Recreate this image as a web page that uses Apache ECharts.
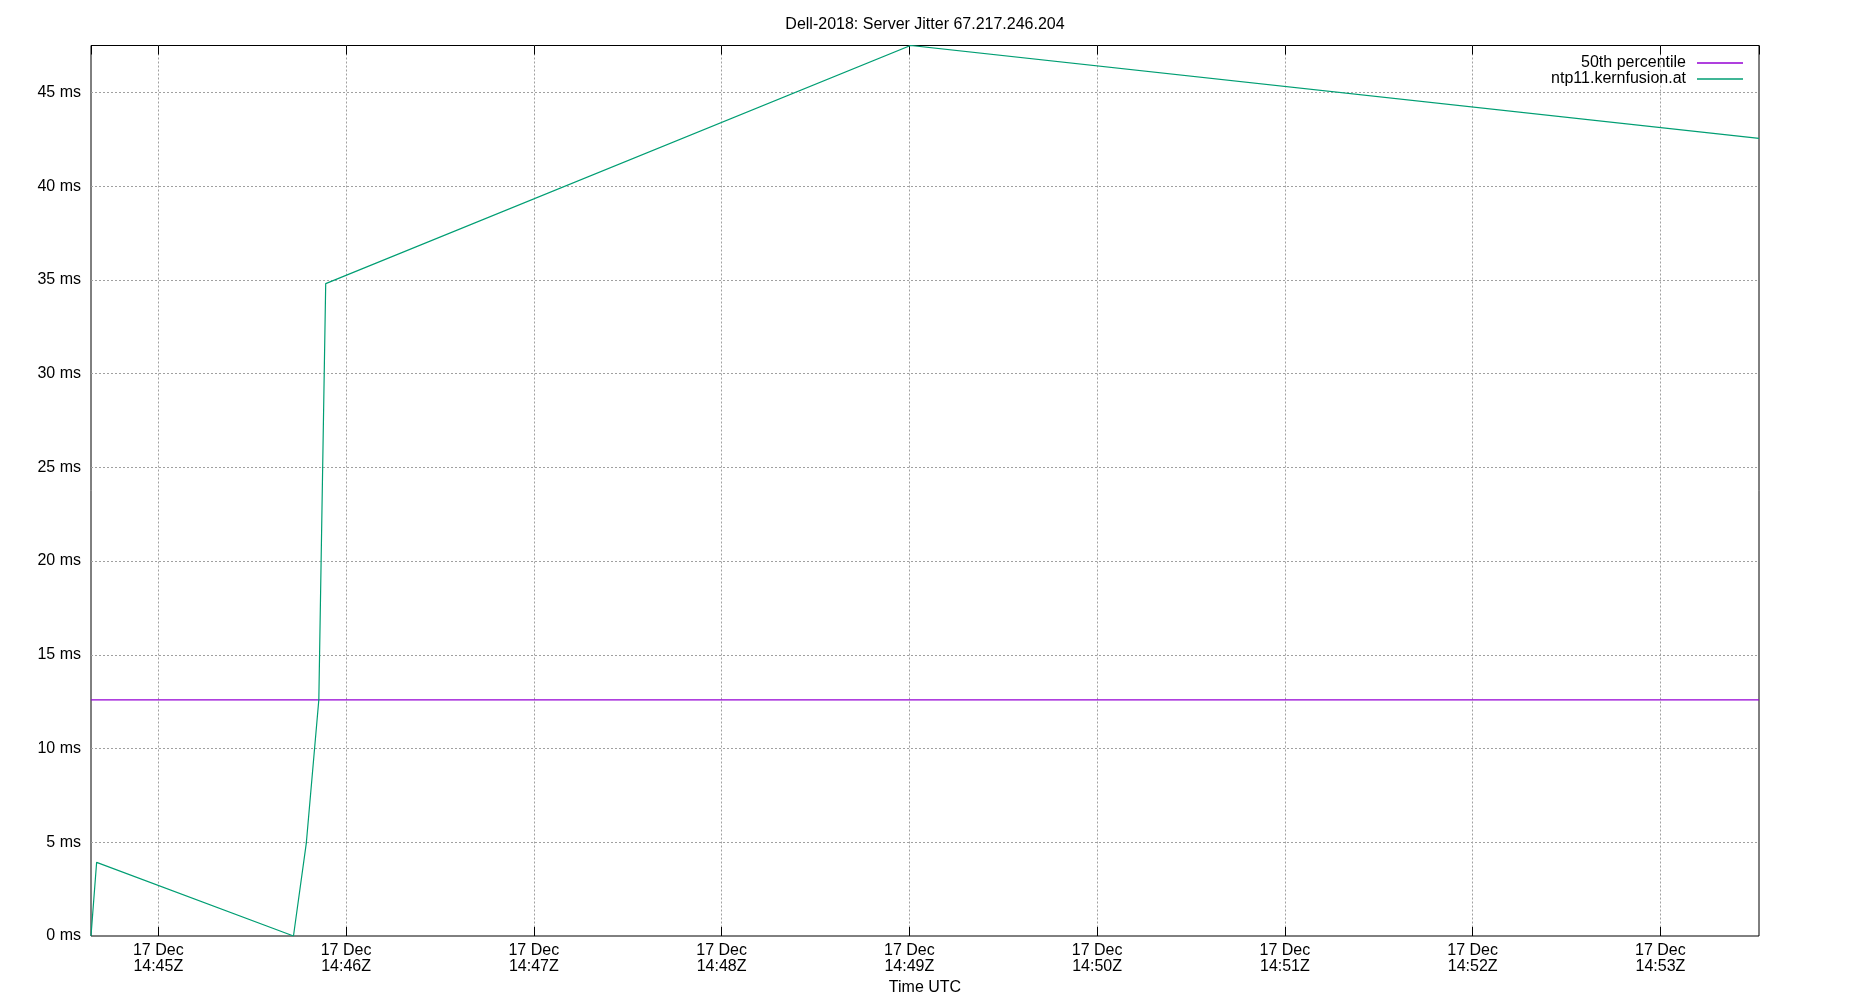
<!DOCTYPE html>
<html>
<head>
    <meta charset="utf-8" />
    <title>Server Jitter</title>
    <style>
        html, body { margin: 0; padding: 0; background: #fff; }
    </style>
</head>
<body>

    <div id="divChart" style="width:1850px;height:1000px;"></div>

    <script src="https://cdn.jsdelivr.net/npm/echarts@6/dist/echarts.min.js"></script>
    <script>
        // data (UTC)
        var jitterTimes = ['2018-12-17T14:44:38.500Z', '2018-12-17T14:44:40.300Z', '2018-12-17T14:45:43.200Z',
            '2018-12-17T14:45:47.300Z', '2018-12-17T14:45:51.300Z', '2018-12-17T14:45:53.500Z',
            '2018-12-17T14:49:00.400Z', '2018-12-17T14:53:31.500Z'];
        var jitterValues = [0, 3.93, 0, 4.95, 12.6, 34.8, 47.5, 42.55];
        var medianValue = 12.59;
        var yTicks = [0, 5, 10, 15, 20, 25, 30, 35, 40, 45];
        var yMax = 47.5;

        var font = 'Liberation Sans, Arial, sans-serif';
        var months = ['Jan', 'Feb', 'Mar', 'Apr', 'May', 'Jun', 'Jul', 'Aug', 'Sep', 'Oct', 'Nov', 'Dec'];

        function pad(n) { return (n < 10 ? '0' : '') + n; }

        var tStart = Date.parse(jitterTimes[0]);
        var tEnd = Date.parse(jitterTimes[jitterTimes.length - 1]);

        var jitterData = jitterTimes.map(function (t, i) { return [Date.parse(t), jitterValues[i]]; });
        var medianData = [[tStart, medianValue], [tEnd, medianValue]];

        var gridLine = { show: true, showMinLine: false, showMaxLine: false, lineStyle: { color: '#a0a0a0', width: 1, type: [2, 2] } };
        var tickStyle = { inside: true, length: 9, lineStyle: { color: '#000' } };

        var myChart = echarts.init(document.getElementById('divChart'));

        var option = {
            useUTC: true,
            animation: false,
            backgroundColor: '#fff',
            title: {
                text: 'Dell-2018: Server Jitter 67.217.246.204',
                left: 'center',
                top: 12,
                textStyle: { fontFamily: font, fontSize: 16, fontWeight: 'normal', color: '#000' }
            },
            grid: {
                show: true, left: 91, right: 91, top: 45.5, bottom: 64,
                borderColor: '#000', borderWidth: 1, containLabel: false, outerBoundsMode: 'none'
            },
            legend: {
                orient: 'vertical',
                right: 102,
                top: 50,
                align: 'right',
                icon: 'rect',
                itemWidth: 46,
                itemHeight: 1.5,
                itemGap: 0,
                textStyle: { fontFamily: font, fontSize: 16, color: '#000', lineHeight: 15, padding: [0, 6, 0, 0] },
                data: ['50th percentile', 'ntp11.kernfusion.at']
            },
            xAxis: [
                {
                    type: 'time',
                    min: tStart,
                    max: tEnd,
                    minInterval: 60000,
                    maxInterval: 60000,
                    name: 'Time UTC',
                    nameLocation: 'middle',
                    nameGap: 44,
                    nameTextStyle: { fontFamily: font, fontSize: 16, color: '#000' },
                    axisLine: { show: false, onZero: false },
                    axisTick: tickStyle,
                    axisLabel: {
                        margin: 7,
                        fontFamily: font, fontSize: 16, color: '#000', lineHeight: 16,
                        showMinLabel: false, showMaxLabel: false,
                        formatter: function (v) {
                            var d = new Date(v);
                            return d.getUTCDate() + ' ' + months[d.getUTCMonth()] + '\n' +
                                pad(d.getUTCHours()) + ':' + pad(d.getUTCMinutes()) + 'Z';
                        }
                    },
                    splitLine: gridLine
                },
                {
                    // mirror ticks on the top border
                    type: 'time',
                    position: 'top',
                    min: tStart,
                    max: tEnd,
                    minInterval: 60000,
                    maxInterval: 60000,
                    axisLine: { show: false, onZero: false },
                    axisTick: tickStyle,
                    axisLabel: { show: false },
                    splitLine: { show: false }
                }
            ],
            yAxis: [
                {
                    type: 'value',
                    min: yTicks[0],
                    max: yMax,
                    interval: yTicks[1] - yTicks[0],
                    axisLine: { show: false, onZero: false },
                    axisTick: tickStyle,
                    axisLabel: {
                        margin: 10, fontFamily: font, fontSize: 16, color: '#000',
                        showMaxLabel: false,
                        formatter: function (v) { return yTicks.indexOf(v) >= 0 ? v + ' ms' : ''; }
                    },
                    splitLine: gridLine
                },
                {
                    type: 'value',
                    position: 'right',
                    min: yTicks[0],
                    max: yMax,
                    interval: yTicks[1] - yTicks[0],
                    axisLine: { show: false, onZero: false },
                    axisTick: tickStyle,
                    axisLabel: { show: false },
                    splitLine: { show: false }
                }
            ],
            series: [
                {
                    name: '50th percentile',
                    type: 'line',
                    symbol: 'none',
                    color: '#9400d3',
                    lineStyle: { width: 1.2, color: '#9400d3' },
                    data: medianData
                },
                {
                    name: 'ntp11.kernfusion.at',
                    type: 'line',
                    symbol: 'none',
                    color: '#009e73',
                    lineStyle: { width: 1.2, color: '#009e73' },
                    data: jitterData
                }
            ]
        };
        myChart.setOption(option);
    </script>
</body>
</html>
